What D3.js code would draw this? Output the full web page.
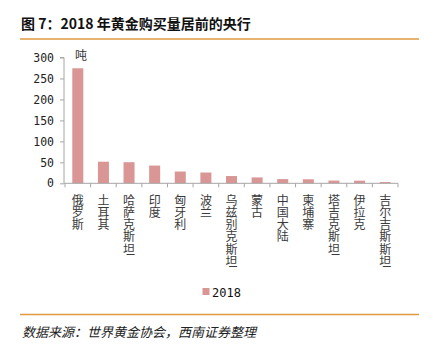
<!DOCTYPE html>
<html><head><meta charset="utf-8">
<script src="https://cdn.jsdelivr.net/npm/d3@7"></script>
<style>
html,body{margin:0;padding:0;background:#fff;}
svg{display:block;}
</style></head>
<body>
<svg id="c" width="433" height="344"></svg>
<script>
const categories = ["俄罗斯","土耳其","哈萨克斯坦","印度","匈牙利","波兰","乌兹别克斯坦","蒙古","中国大陆","柬埔寨","塔吉克斯坦","伊拉克","吉尔吉斯斯坦"];
const values2018 = [274.3, 51.5, 50.3, 42.3, 28.1, 25.7, 17.3, 14.0, 10.0, 9.6, 6.5, 6.3, 3.0];
const yTicks = [0, 50, 100, 150, 200, 250, 300];
const seriesName = "2018";
const unit = "吨";
const title = "图 7：2018 年黄金购买量居前的央行";
const source = "数据来源：世界黄金协会，西南证券整理";

const svg = d3.select("#c");
const barColor = "#D99694";
const axisColor = "#A6A6A6";
const cjk = "'Noto Sans CJK SC', sans-serif";
const mono = "'DejaVu Sans Mono', monospace";

// title
svg.append("text").attr("x", 21).attr("y", 29)
  .attr("font-family", cjk).attr("font-weight", "bold").attr("font-size", 14)
  .attr("fill", "#111").text(title);
svg.append("line").attr("x1", 20).attr("x2", 419).attr("y1", 39).attr("y2", 39)
  .attr("stroke", "#E09A3E").attr("stroke-width", 1.3);

const x = d3.scaleBand().domain(categories).range([65, 398]).paddingInner(0.57).paddingOuter(0.285);
const y = d3.scaleLinear().domain([0, 300]).range([183.3, 57.5]);

// bars
svg.append("g").selectAll("rect").data(categories).join("rect")
  .attr("x", d => x(d)).attr("width", x.bandwidth())
  .attr("y", (d, i) => y(values2018[i]))
  .attr("height", (d, i) => y(0) - y(values2018[i]))
  .attr("fill", barColor);

// y axis
const yAxis = svg.append("g").attr("transform", "translate(64,0)")
  .call(d3.axisLeft(y).tickValues(yTicks).tickSize(4).tickPadding(6));
yAxis.select(".domain").attr("stroke", axisColor).attr("d", `M-4,${y(300)}H0V${y(0)}`);
yAxis.selectAll(".tick line").attr("stroke", axisColor);
yAxis.selectAll(".tick text").attr("font-family", mono).attr("font-size", 11.5).attr("fill", "#222");

// x axis with ticks at band boundaries
const xg = svg.append("g");
xg.append("line").attr("x1", 64).attr("x2", 398).attr("y1", y(0)).attr("y2", y(0)).attr("stroke", axisColor);
const bounds = d3.range(categories.length + 1).map(i => 65 + i * (333 / categories.length));
xg.selectAll("line.t").data(bounds).join("line").attr("class", "t")
  .attr("x1", d => d).attr("x2", d => d).attr("y1", y(0)).attr("y2", y(0) + 4).attr("stroke", axisColor);

// category labels vertical
svg.append("g").selectAll("text").data(categories).join("text")
  .attr("x", d => x(d) + x.bandwidth() / 2).attr("y", 194)
  .attr("font-family", cjk).attr("font-size", 12).attr("fill", "#3a3a3a")
  .style("writing-mode", "vertical-rl").style("text-orientation", "upright")
  .style("letter-spacing", "0.3px")
  .text(d => d);

// unit
svg.append("text").attr("x", 75).attr("y", 60)
  .attr("font-family", cjk).attr("font-size", 12).attr("fill", "#333").text(unit);

// legend
svg.append("rect").attr("x", 202.5).attr("y", 288).attr("width", 7).attr("height", 7).attr("fill", barColor);
svg.append("text").attr("x", 212).attr("y", 296.5)
  .attr("font-family", mono).attr("font-size", 12).attr("fill", "#111").text(seriesName);

// footer
svg.append("line").attr("x1", 20).attr("x2", 419).attr("y1", 314.5).attr("y2", 314.5)
  .attr("stroke", "#E09A3E").attr("stroke-width", 1.3);
svg.append("text").attr("x", 22).attr("y", 337)
  .attr("font-family", cjk).attr("font-style", "italic").attr("font-size", 13)
  .attr("fill", "#222").text(source);
</script>
</body></html>
